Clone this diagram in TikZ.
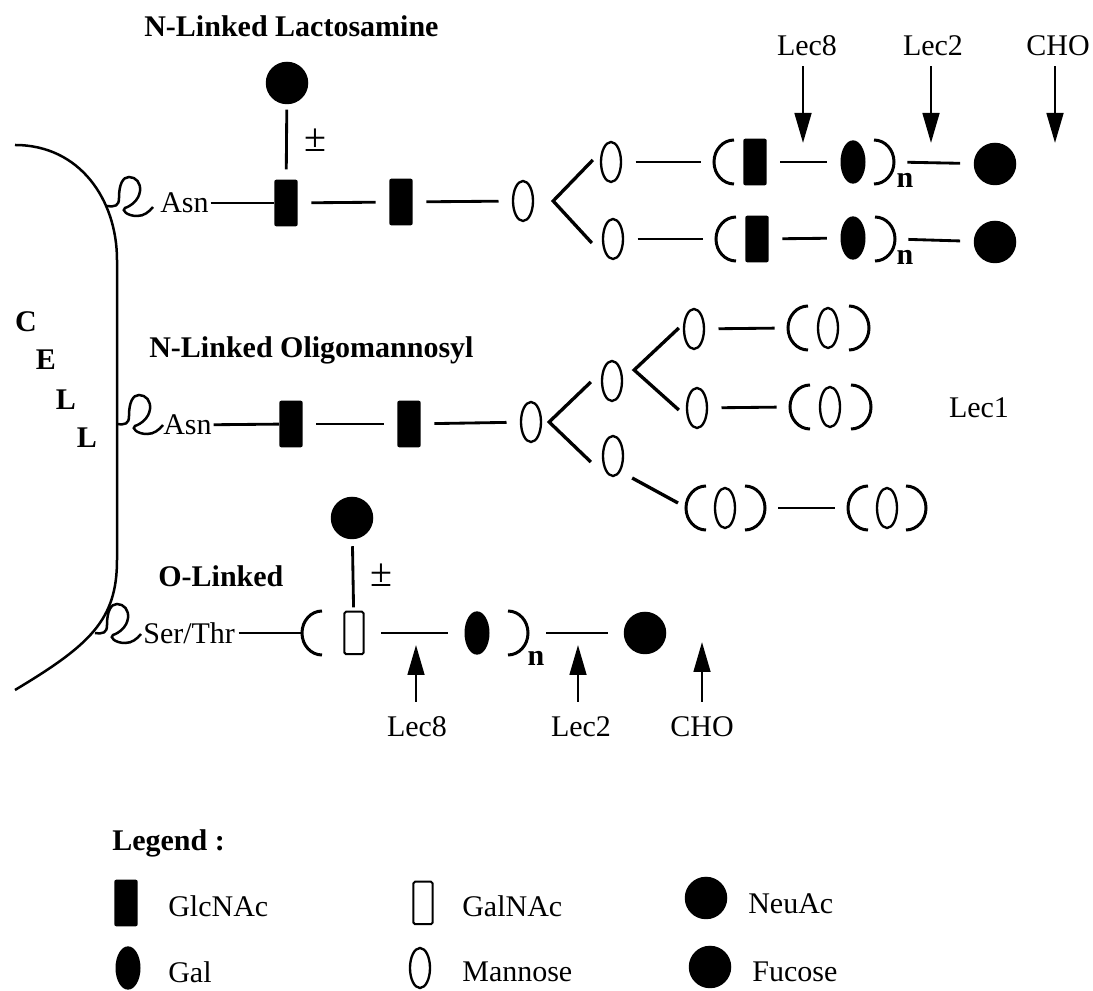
\documentclass[tikz,border=0pt]{standalone}
\usepackage{fontspec}
\setmainfont{Liberation Serif}
\usetikzlibrary{shapes.geometric, arrows.meta, positioning, calc}

% brackets drawn from their outer point
\newcommand\lbrak[1]{\draw[brak] (#1) ++(12pt,13.2pt) arc[start angle=90, end angle=270, x radius=12pt, y radius=13.2pt];}
\newcommand\rbrak[1]{\draw[brak] (#1) ++(-12pt,13.2pt) arc[start angle=90, end angle=-90, x radius=12pt, y radius=13.2pt];}
% little loop that ties a chain to the cell
\newcommand\cellloop[1]{\draw[cellline, shift={(#1)}] (0,0) .. controls (8,1) and (12,0) .. (12,-8) .. controls (12,-22) and (16,-29) .. (22,-29) .. controls (29,-29) and (34,-23) .. (33,-15) .. controls (32,-6) and (24,0) .. (18,2) .. controls (14,4) and (20,10) .. (30,10) .. controls (37,10) and (42,6) .. (46,1);}

\begin{document}
\begin{tikzpicture}[
  x=0.6pt, y=-0.6pt,
  every node/.style={font=\fontsize{18}{21}\selectfont},
  bond/.style={line width=1.7pt, shorten <=8pt, shorten >=8pt},
  branch/.style={line width=2pt},
  brak/.style={line width=1.8pt},
  cellline/.style={line width=1.5pt},
  arrow/.style={line width=1.6pt, -{Triangle[length=18pt, width=10pt]}},
  glc/.style={rectangle, fill=black, rounded corners=1.2pt, minimum width=14pt, minimum height=28pt, inner sep=0pt},
  galn/.style={rectangle, draw, line width=1.2pt, rounded corners=1pt, minimum width=11.5pt, minimum height=25.5pt, inner sep=0pt},
  gal/.style={ellipse, fill=black, minimum width=15pt, minimum height=26pt, inner sep=0pt},
  man/.style={ellipse, draw, line width=1.4pt, minimum width=12pt, minimum height=24pt, inner sep=0pt},
  neu/.style={circle, fill=black, minimum size=25.5pt, inner sep=0pt},
  ttl/.style={font=\fontsize{18}{21}\selectfont\bfseries, inner sep=0pt},
  lbl/.style={inner sep=0pt},
  pm/.style={font=\fontsize{24}{26}\selectfont, inner sep=0pt},
]
\useasboundingbox (0,0) rectangle (1093,991);

% Cell
\draw[cellline] (15,145) .. controls (80,145) and (117,200) .. (117,260) -- (117,560) .. controls (117,620) and (90,645) .. (15,690);
\node[ttl] at (26,322) {C};
\node[ttl] at (46,360) {E};
\node[ttl] at (66,400) {L};
\node[ttl] at (87,438) {L};

% N-linked lactosamine
\node[ttl, anchor=west] at (144,26) {N-Linked Lactosamine};
\cellloop{107,206}
\node[lbl, anchor=west] (asnT) at (160,203) {Asn};
\node[glc] (glcT1) at (286,203) {};
\node[neu] (neuT) at (287,83) {};
\node[pm] at (315,140) {±};
\node[glc] (glcT2) at (401,202) {};
\node[man] (manT) at (523,201) {};
\node[man] (manTa) at (611,162) {};
\node[man] (manTb) at (613,239) {};
\coordinate (lpTa) at (714,162);
\node[glc] (glcTa) at (755,162) {};
\node[gal] (galTa) at (853,162) {};
\coordinate (rpTa) at (894,162);
\node[lbl] at (905,180) {\textbf{n}};
\node[neu] (fucTa) at (995,164) {};
\coordinate (lpTb) at (716,239);
\node[glc] (glcTb) at (757,239) {};
\node[gal] (galTb) at (853,238) {};
\coordinate (rpTb) at (895,239);
\node[lbl] at (905,257) {\textbf{n}};
\node[neu] (fucTb) at (995,242) {};

\draw[bond, shorten <=1pt, shorten >=0pt] (asnT) -- (glcT1);
\draw[bond, shorten <=3pt, shorten >=6pt] (neuT) -- (glcT1);
\draw[bond] (glcT1) -- (glcT2);
\draw[bond] (glcT2) -- (manT);
\draw[branch] ($(manTa.west)+(-7,-2)$) -- ($(manT.east)+(19,0)$) -- ($(manTb.west)+(-10,4)$);
\draw[bond] (manTa) -- (lpTa);
\lbrak{lpTa}
\draw[bond] (glcTa) -- (galTa);
\rbrak{rpTa}
\draw[bond] (rpTa) -- (fucTa);
\draw[bond] (manTb) -- (lpTb);
\lbrak{lpTb}
\draw[bond] (glcTb) -- (galTb);
\rbrak{rpTb}
\draw[bond] (rpTb) -- (fucTb);

% Mutant sites, top
\coordinate (t8) at (803,143);
\coordinate (t2) at (931,143);
\coordinate (tc) at (1055,143);
\node[lbl] (l8t) at (807,46) {Lec8};
\node[lbl] (l2t) at (933,46) {Lec2};
\node[lbl] (lct) at (1058,46) {CHO};
\draw[arrow, shorten <=6pt] (t8 |- l8t.south) -- (t8);
\draw[arrow, shorten <=6pt] (t2 |- l2t.south) -- (t2);
\draw[arrow, shorten <=6pt] (tc |- lct.south) -- (tc);

% N-linked oligomannosyl
\node[ttl, anchor=west] at (149,350) {N-Linked Oligomannosyl};
\cellloop{117,424}
\node[lbl, anchor=west] (asnM) at (163,425) {Asn};
\node[glc] (glcM1) at (291,424) {};
\node[glc] (glcM2) at (409,424) {};
\node[man] (manM) at (531,422) {};
\node[man] (manMa) at (612,381) {};
\node[man] (manMb) at (613,456) {};
\node[man] (manM1) at (694,329) {};
\coordinate (lpM1) at (788,328);
\node[man] (manM1i) at (828,328) {};
\coordinate (rpM1) at (869,328);
\node[man] (manM2) at (697,408) {};
\coordinate (lpM2) at (790,407);
\node[man] (manM2i) at (830,407) {};
\coordinate (rpM2) at (871,407);
\node[lbl] at (979,408) {Lec1};
\coordinate (lpM3) at (686,508);
\node[man] (manM3i) at (725,508) {};
\coordinate (rpM3) at (765,508);
\coordinate (lpM4) at (848,508);
\node[man] (manM4i) at (887,508) {};
\coordinate (rpM4) at (926,508);

\draw[bond, shorten <=1pt, shorten >=0pt] (asnM) -- (glcM1);
\draw[bond] (glcM1) -- (glcM2);
\draw[bond] (glcM2) -- (manM);
\draw[branch] ($(manMa.west)+(-10,1)$) -- ($(manM.east)+(7,0)$) -- ($(manMb.west)+(-11,6)$);
\draw[branch] ($(manM1.west)+(-4,-1)$) -- ($(manMa.east)+(11,-11)$) -- ($(manM2.west)+(-7,2)$);
\draw[bond] (manM1) -- (lpM1);
\lbrak{lpM1} \rbrak{rpM1}
\draw[bond] (manM2) -- (lpM2);
\lbrak{lpM2} \rbrak{rpM2}
\draw[branch] ($(manMb.east)+(8,22)$) -- ($(lpM3)+(-8,-5)$);
\lbrak{lpM3} \rbrak{rpM3}
\draw[bond] (rpM3) -- (lpM4);
\lbrak{lpM4} \rbrak{rpM4}

% O-linked
\node[ttl, anchor=west] at (158,576) {O-Linked};
\cellloop{95,633}
\node[lbl, anchor=west] (ser) at (143,633) {Ser/Thr};
\coordinate (lpO) at (302,633);
\node[galn] (galnO) at (354,633) {};
\node[neu] (neuO) at (352,518) {};
\node[pm] at (381,575) {±};
\node[gal] (galO) at (477,633) {};
\coordinate (rpO) at (528,633);
\node[lbl] at (536,658) {\textbf{n}};
\node[neu] (fucO) at (645,633) {};

\draw[bond, shorten <=2pt, shorten >=0pt] (ser) -- (lpO);
\lbrak{lpO}
\draw[bond, shorten <=4pt, shorten >=2pt] (neuO) -- (galnO);
\draw[bond, shorten <=10pt, shorten >=10pt] (galnO) -- (galO);
\rbrak{rpO}
\draw[bond, shorten <=11pt, shorten >=9pt] (rpO) -- (fucO);

% Mutant sites, bottom
\coordinate (b8) at (416,645);
\coordinate (b2) at (578,645);
\coordinate (bc) at (702,642);
\node[lbl] (l8b) at (417,727) {Lec8};
\node[lbl] (l2b) at (581,727) {Lec2};
\node[lbl] (lcb) at (702,727) {CHO};
\draw[arrow, shorten <=9pt] (b8 |- l8b.north) -- (b8);
\draw[arrow, shorten <=9pt] (b2 |- l2b.north) -- (b2);
\draw[arrow, shorten <=9pt] (bc |- lcb.north) -- (bc);

% Legend
\node[ttl, anchor=west] at (112,843) {Legend :};
\node[glc] (kglc) at (126,903) {};
\node[lbl, anchor=west] at (168,906) {GlcNAc};
\node[galn] (kgaln) at (423,903) {};
\node[lbl, anchor=west] at (462,906) {GalNAc};
\node[neu] (kneu) at (706,898) {};
\node[lbl, anchor=west] at (748,904) {NeuAc};
\node[gal] (kgal) at (128,968) {};
\node[lbl, anchor=west] at (168,972) {Gal};
\node[man] (kman) at (420,968) {};
\node[lbl, anchor=west] at (462,972) {Mannose};
\node[neu] (kfuc) at (710,967) {};
\node[lbl, anchor=west] at (752,972) {Fucose};
\end{tikzpicture}
\end{document}
